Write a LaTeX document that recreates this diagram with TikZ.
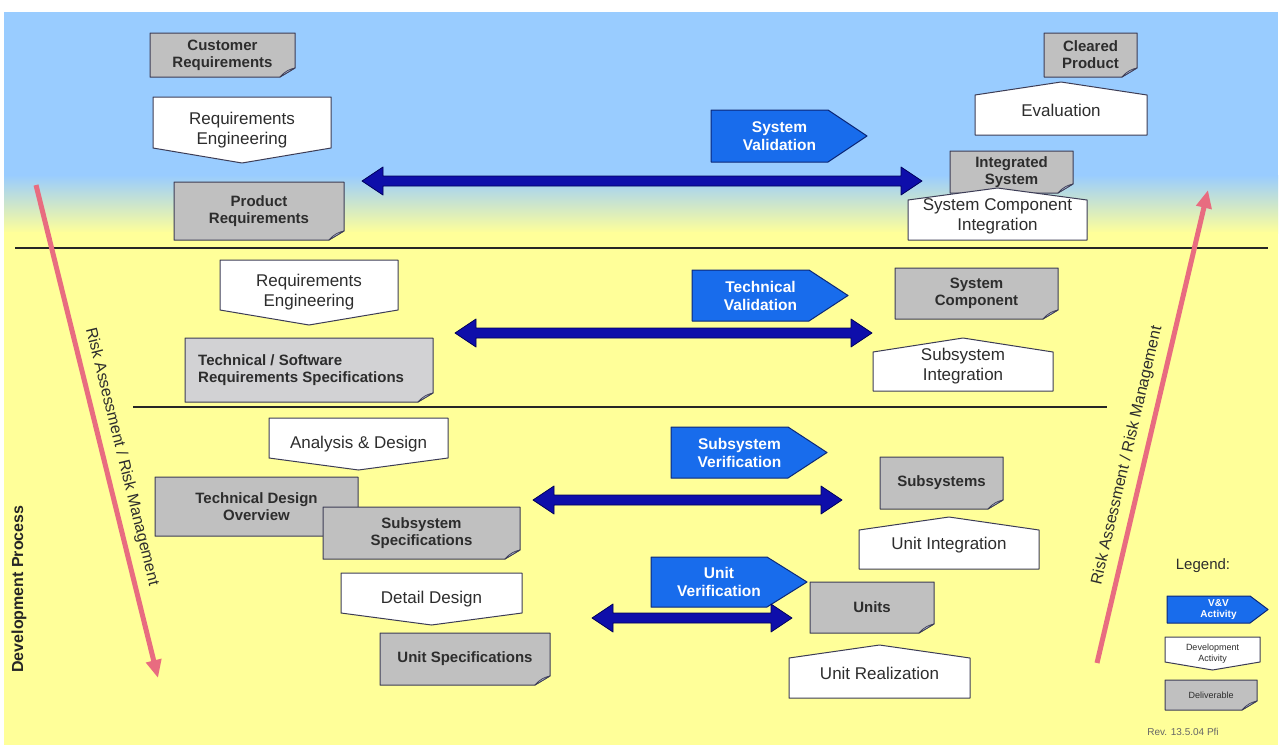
\documentclass[tikz,border=0pt]{standalone}
\usepackage{fontspec}
\setmainfont{Liberation Sans}
\usetikzlibrary{calc,arrows.meta}

\definecolor{skyblue}{RGB}{153,204,255}
\definecolor{paleyellow}{RGB}{255,255,153}
\definecolor{delivgray}{RGB}{192,192,192}
\definecolor{specgray}{RGB}{210,210,212}
\definecolor{boxedge}{RGB}{60,60,85}
\definecolor{curlcol}{RGB}{184,192,220}
\definecolor{labeltext}{RGB}{45,45,45}
\definecolor{vvblue}{RGB}{24,108,236}
\definecolor{vvedge}{RGB}{12,40,120}
\definecolor{arrowblue}{RGB}{14,14,170}
\definecolor{arrowedge}{RGB}{0,0,90}
\definecolor{riskpink}{RGB}{232,108,128}

\tikzset{
  delivfill/.style={fill=delivgray, draw=boxedge, line width=1pt},
  specfill/.style={fill=specgray, draw=boxedge, line width=1pt},
  curl/.style={fill=curlcol, draw=boxedge, line width=0.7pt},
  delivtext/.style={font=\fontsize{15}{17}\selectfont\bfseries, text=labeltext, align=center, inner sep=0pt},
  devfill/.style={fill=white, draw=boxedge, line width=1pt},
  devtext/.style={font=\fontsize{17}{20}\selectfont, text=labeltext, align=center, inner sep=0pt},
  vvfill/.style={fill=vvblue, draw=vvedge, line width=1pt},
  vvtext/.style={font=\fontsize{15.5}{18}\selectfont\bfseries, text=white, align=center, inner sep=0pt},
  dblarrow/.style={fill=arrowblue, draw=arrowedge, line width=0.8pt},
  riskarrow/.style={draw=riskpink, line width=5pt, -{Triangle[length=18pt,width=15pt]}},
  risktext/.style={font=\fontsize{16}{18}\selectfont, text=labeltext, inner sep=0pt},
  sepline/.style={draw=black!85, line width=1.1pt},
  legsmall/.style={font=\fontsize{9}{10.5}\selectfont, text=labeltext, align=center, inner sep=0pt},
  legvv/.style={font=\fontsize{10}{11}\selectfont\bfseries, text=white, align=center, inner sep=0pt}
}

% deliverable: grey sheet with a curled lower right corner
% [text style] {name}{x1}{y1}{x2}{y2}{text}
\newcommand{\DelivBox}[7][delivtext]{%
  \filldraw[delivfill] (#3,#4) -- (#5,#4) -- (#5,#6-9) -- (#5-15,#6) -- (#3,#6) -- cycle;
  \filldraw[curl] (#5,#6-9) -- (#5-15,#6) .. controls (#5-10,#6-6) and (#5-5,#6-8) .. (#5,#6-9) -- cycle;
  \node[#1] (#2) at ({(#3+#5)/2},{(#4+#6)/2}) {#7};}

% development activity heading downwards
% [text style] {name}{x1}{y1}{x2}{y sides}{y tip}, label in \DevLabel
\newcommand{\DevDown}[7][devtext]{%
  \filldraw[devfill] (#3,#4) -- (#5,#4) -- (#5,#6) -- ({(#3+#5)/2},#7) -- (#3,#6) -- cycle;
  \node[#1] (#2) at ({(#3+#5)/2},{(#4+#7)/2}) {\DevLabel};}

% development activity heading upwards
% {name}{x1}{y peak}{y sides}{x2}{y bottom}{text}
\newcommand{\DevUp}[7]{%
  \filldraw[devfill] (#2,#4) -- ({(#2+#5)/2},#3) -- (#5,#4) -- (#5,#6) -- (#2,#6) -- cycle;
  \node[devtext] (#1) at ({(#2+#5)/2},{(#3+#6)/2+2}) {#7};}

% verification / validation activity (pointing right)
% [text style] {name}{x1}{y1}{x body end}{x tip}{y2}, label in \VVLabel
\newcommand{\VVBox}[7][vvtext]{%
  \filldraw[vvfill] (#3,#4) -- (#5,#4) -- (#6,{(#4+#7)/2}) -- (#5,#7) -- (#3,#7) -- cycle;
  \node[#1] (#2) at ({(#3+#5)/2+10},{(#4+#7)/2}) {\VVLabel};}

% thick double-headed arrow between two named ends
\newcommand{\DblArrow}[2]{%
  \filldraw[dblarrow] (#1) -- ($(#1)+(21,-14)$) -- ($(#1)+(21,-5)$) -- ($(#2)+(-21,-5)$)
    -- ($(#2)+(-21,-14)$) -- (#2) -- ($(#2)+(-21,14)$) -- ($(#2)+(-21,5)$)
    -- ($(#1)+(21,5)$) -- ($(#1)+(21,14)$) -- cycle;}

\begin{document}
\begin{tikzpicture}[x=1pt,y=-1pt,line join=round]
\useasboundingbox (0,0) rectangle (1282,745);

% background bands
\fill[white] (0,0) rectangle (1282,745);
\fill[skyblue] (4,12) rectangle (1278,176);
\shade[top color=skyblue, bottom color=paleyellow] (4,175) rectangle (1278,233);
\fill[paleyellow] (4,232) rectangle (1278,745);

% level separators
\draw[sepline] (15,248) -- (1268,248);
\draw[sepline] (133,407) -- (1107,407);

% ---- system level ----
\DelivBox{custreq}{150}{33}{295}{77}{Customer\\Requirements}
\def\DevLabel{Requirements\\Engineering}
\DevDown{reqeng1}{153}{97}{331}{148}{163}
\DelivBox{prodreq}{174}{182}{344}{240}{Product\\Requirements}

\def\VVLabel{System\\Validation}
\VVBox{sysval}{711}{110}{828}{867}{162}

\DelivBox{cleared}{1044}{33}{1137}{77}{Cleared\\Product}
\DevUp{evaluation}{975}{82}{95}{1147}{135}{Evaluation}
\DelivBox{integsys}{950}{151}{1073}{193}{Integrated\\System}
\DevUp{sysint}{908}{188}{200}{1087}{240}{System Component\\Integration}

\coordinate (sv-l) at (362,181);
\coordinate (sv-r) at (922,181);
\DblArrow{sv-l}{sv-r}

% ---- technical level ----
\def\DevLabel{Requirements\\Engineering}
\DevDown{reqeng2}{220}{260}{398}{310}{325}
\filldraw[specfill] (185,338) -- (433,338) -- (433,393) -- (418,402) -- (185,402) -- cycle;
\filldraw[curl] (433,393) -- (418,402) .. controls (423,396) and (428,394) .. (433,393) -- cycle;
\node[delivtext, align=left, anchor=west] (tsrs) at (198,370) {Technical / Software\\Requirements Specifications};

\def\VVLabel{Technical\\Validation}
\VVBox{techval}{692}{270}{809}{848}{321}

\DelivBox{syscomp}{895}{268}{1058}{319}{System\\Component}
\DevUp{subint}{873}{338}{352}{1053}{391}{Subsystem\\Integration}

\coordinate (tv-l) at (455,333);
\coordinate (tv-r) at (872,333);
\DblArrow{tv-l}{tv-r}

% ---- subsystem and unit level ----
\def\DevLabel{Analysis \& Design}
\DevDown{anades}{269}{418}{448}{458}{470}
\DelivBox{tdo}{155}{477}{358}{536}{Technical Design\\Overview}
\DelivBox{subspec}{323}{507}{520}{559}{Subsystem\\Specifications}
\def\DevLabel{Detail Design}
\DevDown{detdes}{341}{573}{522}{613}{625}
\DelivBox{unitspec}{380}{633}{550}{685}{Unit Specifications}

\def\VVLabel{Subsystem\\Verification}
\VVBox{subver}{671}{427}{788}{827}{478}
\def\VVLabel{Unit\\Verification}
\VVBox{unitver}{651}{557}{767}{807}{607}

\DelivBox{subsystems}{880}{457}{1003}{509}{Subsystems}
\DevUp{unitint}{859}{517}{530}{1039}{569}{Unit Integration}
\DelivBox{units}{810}{582}{934}{633}{Units}
\DevUp{unitreal}{789}{645}{658}{970}{698}{Unit Realization}

\coordinate (sub-l) at (533,500);
\coordinate (sub-r) at (842,500);
\DblArrow{sub-l}{sub-r}
\coordinate (unit-l) at (592,618);
\coordinate (unit-r) at (792,618);
\DblArrow{unit-l}{unit-r}

% ---- risk management arrows ----
\coordinate (riskl-s) at (36,185);
\coordinate (riskl-e) at (158,678);
\draw[riskarrow] (riskl-s) -- (riskl-e)
  node[risktext, pos=0.56, sloped, above=8pt] (riskl-label) {Risk Assessment / Risk Management};
\coordinate (riskr-s) at (1097,663);
\coordinate (riskr-e) at (1208,190);
\draw[riskarrow] (riskr-s) -- (riskr-e)
  node[risktext, pos=0.43, sloped, above=8pt] (riskr-label) {Risk Assessment / Risk Management};

\node[rotate=90, font=\fontsize{16}{18}\selectfont\bfseries, text=black!85, inner sep=0pt] (devproc) at (19,589) {Development Process};

% ---- legend ----
\node[font=\fontsize{15}{17}\selectfont, text=labeltext, inner sep=0pt] (legend) at (1203,566) {Legend:};
\def\VVLabel{V\&V\\Activity}
\VVBox[legvv]{leg-vv}{1167}{596}{1250}{1268}{623}
\def\DevLabel{Development\\Activity}
\DevDown[legsmall]{leg-dev}{1165}{637}{1260}{662}{670}
\DelivBox[legsmall]{leg-del}{1165}{680}{1257}{710}{Deliverable}
\node[font=\fontsize{10}{12}\selectfont, text=black!60, inner sep=0pt] (rev) at (1183,732) {Rev. 13.5.04 Pfi};
\end{tikzpicture}
\end{document}
